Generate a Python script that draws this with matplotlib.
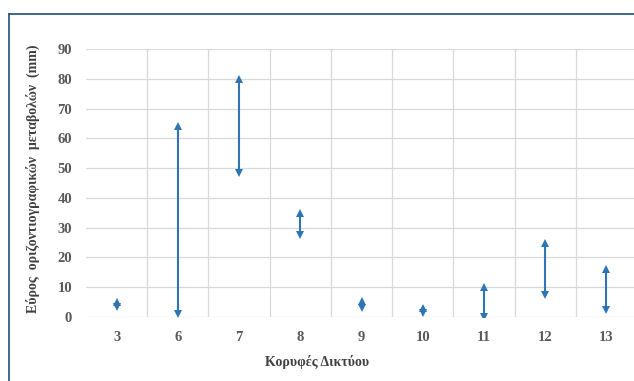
import matplotlib.pyplot as plt
from matplotlib.lines import Line2D

# data: range of horizontal displacement per network vertex
vertices = ["3", "6", "7", "8", "9", "10", "11", "12", "13"]
low = [3.5, 1.0, 48.5, 27.5, 3.0, 1.5, 0.0, 7.5, 2.5]
high = [5.0, 64.0, 80.0, 35.0, 5.5, 3.0, 10.0, 25.0, 16.0]
y_ticks = [0, 10, 20, 30, 40, 50, 60, 70, 80, 90]

plt.rcParams['font.family'] = ['Liberation Serif', 'DejaVu Serif']

fig = plt.figure(figsize=(6.34, 3.81), dpi=100)
ax = fig.add_axes([86 / 634, 1 - 317 / 381, 551 / 634, 268 / 381])

n = len(vertices)
x = list(range(n))
ax.set_xlim(-0.5, n - 0.5)
ax.set_ylim(0, 90)

# grid
for v in y_ticks:
    ax.axhline(v, color="#d9d9d9", lw=0.9, zorder=0)
for i in range(n):
    ax.axvline(i + 0.5, color="#d9d9d9", lw=0.9, zorder=0)

# high-low lines with arrow heads
arrow_col = "#2E75B6"
ax.vlines(x, low, high, color=arrow_col, lw=1.5, zorder=3)
ax.plot(x, high, ls="none", marker="^", ms=6, color=arrow_col, mew=0, zorder=4)
ax.plot(x, low, ls="none", marker="v", ms=6, color=arrow_col, mew=0, zorder=4)

ax.set_xticks(x)
ax.set_xticklabels(vertices)
ax.set_yticks(y_ticks)
ax.tick_params(axis="both", length=0, colors="#595959", labelsize=10.5)
for lab in ax.get_xticklabels() + ax.get_yticklabels():
    lab.set_fontweight("bold")
ax.tick_params(axis="y", pad=10)
ax.tick_params(axis="x", pad=10)

for s in ax.spines.values():
    s.set_visible(False)

fig.text(0.5, 1 - 362 / 381, "Κορυφές Δικτύου", ha="center", va="center",
         fontsize=10, fontweight="bold", color="#404040")
fig.text(33 / 634, 1 - 179 / 381, "Εύρος  οριζοντιογραφικών  μεταβολών  (mm)",
         ha="center", va="center", rotation=90, fontsize=10,
         fontweight="bold", color="#404040")

# chart frame (top and left visible)
frame_col = "#1F4E79"
fig.add_artist(Line2D([9 / 634, 1], [1 - 14 / 381, 1 - 14 / 381],
                      transform=fig.transFigure, color=frame_col, lw=1.2))
fig.add_artist(Line2D([9 / 634, 9 / 634], [0, 1 - 14 / 381],
                      transform=fig.transFigure, color=frame_col, lw=1.2))

fig.savefig("out.png", dpi=100)
